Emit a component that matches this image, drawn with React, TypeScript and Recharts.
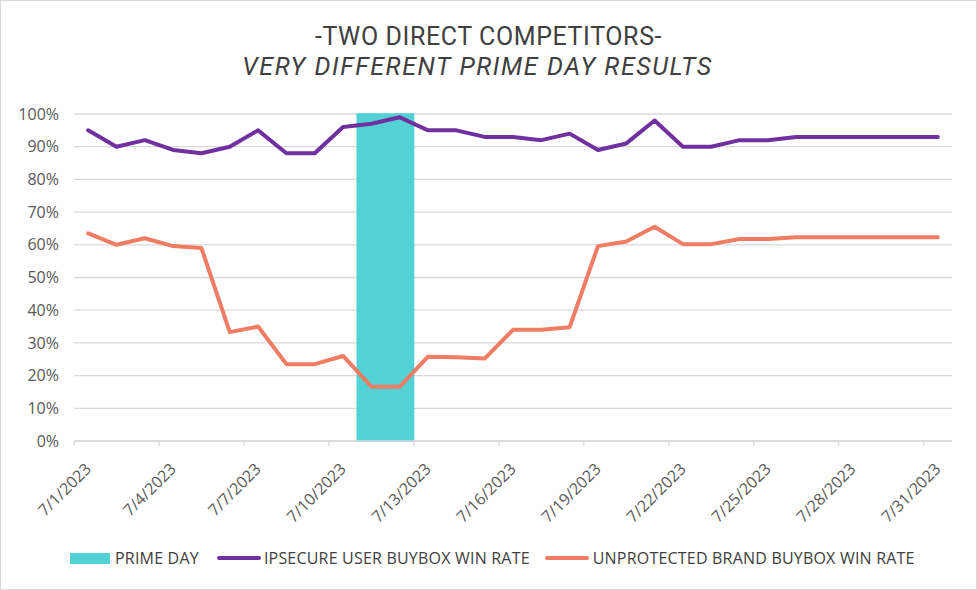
import { Bar, CartesianGrid, ComposedChart, Line, XAxis, YAxis } from "recharts";

const dates = [
  "7/1/2023", "7/2/2023", "7/3/2023", "7/4/2023", "7/5/2023", "7/6/2023", "7/7/2023",
  "7/8/2023", "7/9/2023", "7/10/2023", "7/11/2023", "7/12/2023", "7/13/2023", "7/14/2023",
  "7/15/2023", "7/16/2023", "7/17/2023", "7/18/2023", "7/19/2023", "7/20/2023", "7/21/2023",
  "7/22/2023", "7/23/2023", "7/24/2023", "7/25/2023", "7/26/2023", "7/27/2023", "7/28/2023",
  "7/29/2023", "7/30/2023", "7/31/2023",
];

const primeDay = [
  null, null, null, null, null, null, null, null, null, null, 100, 100, null, null, null, null,
  null, null, null, null, null, null, null, null, null, null, null, null, null, null, null,
];

const ipsecure = [
  95, 90, 92, 89, 88, 90, 95, 88, 88, 96, 97, 99, 95, 95, 93, 93,
  92, 94, 89, 91, 98, 90, 90, 92, 92, 93, 93, 93, 93, 93, 93,
];

const unprotected = [
  63.5, 60, 62, 59.6, 59, 33.3, 35, 23.5, 23.5, 26, 16.6, 16.6, 25.8, 25.6, 25.2, 34,
  34, 34.8, 59.6, 61, 65.5, 60.2, 60.2, 61.8, 61.8, 62.3, 62.3, 62.3, 62.3, 62.3, 62.3,
];

const yTicks = [0, 10, 20, 30, 40, 50, 60, 70, 80, 90, 100];

const TEAL = "#53D1D4";
const PURPLE = "#7030A0";
const SALMON = "#F07C63";
const GRID = "#D9D9D9";
const FONT = "'Open Sans', sans-serif";

const data = dates.map((date, i) => ({
  date,
  prime: primeDay[i],
  ipsecure: ipsecure[i],
  unprotected: unprotected[i],
}));

function DateTick(props: any) {
  const { x, y, payload } = props;
  const half = payload.offset ?? 14;
  return (
    <g>
      <line x1={x - half} x2={x - half} y1={y} y2={y + 5} stroke={GRID} strokeWidth={1.3} />
      <text
        x={x}
        y={y + 25}
        dy="0.35em"
        textAnchor="end"
        transform={`rotate(-45, ${x}, ${y + 25})`}
        fontSize={16}
        fontFamily={FONT}
        fill="#595959"
      >
        {payload.value}
      </text>
    </g>
  );
}

function LegendItem({
  kind,
  color,
  label,
  gap,
}: {
  kind: "rect" | "line";
  color: string;
  label: string;
  gap: number;
}) {
  return (
    <span style={{ display: "flex", alignItems: "center", gap }}>
      {kind === "rect" ? (
        <span style={{ width: 40, height: 11, background: color }} />
      ) : (
        <span style={{ width: 44, height: 4, borderRadius: 2, background: color }} />
      )}
      <span>{label}</span>
    </span>
  );
}

export default function App() {
  const titleStyle = {
    position: "absolute" as const,
    width: 975,
    textAlign: "center" as const,
    fontFamily: "Roboto, sans-serif",
    fontSize: 25,
    lineHeight: "25px",
    color: "#404040",
    whiteSpace: "nowrap" as const,
  };
  return (
    <div
      style={{
        position: "absolute",
        left: 0,
        top: 0,
        width: 977,
        height: 590,
        boxSizing: "border-box",
        border: `1px solid ${GRID}`,
        background: "#fff",
        fontFamily: FONT,
      }}
    >
      <div style={{ ...titleStyle, top: 23, left: 0, letterSpacing: 0.6 }}>
        -TWO DIRECT COMPETITORS-
      </div>
      <div style={{ ...titleStyle, top: 53, left: -11, fontStyle: "italic", letterSpacing: 1.6 }}>
        VERY DIFFERENT PRIME DAY RESULTS
      </div>

      <div style={{ position: "absolute", top: 0, left: 0 }}>
        <ComposedChart
          width={975}
          height={588}
          data={data}
          margin={{ top: 113, right: 24, left: 13, bottom: 118 }}
          barCategoryGap={0}
          barGap={0}
        >
          <CartesianGrid vertical={false} stroke={GRID} strokeWidth={1.3} />
          <XAxis
            dataKey="date"
            interval={2}
            height={30}
            tickSize={0}
            tickMargin={0}
            tickLine={false}
            axisLine={{ stroke: GRID, strokeWidth: 1.3 }}
            tick={<DateTick />}
          />
          <YAxis
            domain={[0, 100]}
            ticks={yTicks}
            width={60}
            axisLine={false}
            tickLine={false}
            tickSize={0}
            tickMargin={15}
            tickFormatter={(v: number) => `${v}%`}
            tick={{ fontSize: 16, fontFamily: FONT, fill: "#595959" }}
          />
          <Bar
            dataKey="prime"
            name="PRIME DAY"
            fill={TEAL}
            stroke={TEAL}
            strokeWidth={1.5}
            isAnimationActive={false}
          />
          <Line
            dataKey="ipsecure"
            name="IPSECURE USER BUYBOX WIN RATE"
            stroke={PURPLE}
            strokeWidth={4}
            dot={false}
            strokeLinecap="round"
            strokeLinejoin="round"
            isAnimationActive={false}
          />
          <Line
            dataKey="unprotected"
            name="UNPROTECTED BRAND BUYBOX WIN RATE"
            stroke={SALMON}
            strokeWidth={4}
            dot={false}
            strokeLinecap="round"
            strokeLinejoin="round"
            isAnimationActive={false}
          />
        </ComposedChart>
      </div>

      <div
        style={{
          position: "absolute",
          top: 546,
          left: 69,
          display: "flex",
          alignItems: "center",
          fontSize: 16,
          letterSpacing: 0.2,
          color: "#404040",
          lineHeight: "22px",
          whiteSpace: "nowrap",
        }}
      >
        <LegendItem kind="rect" color={TEAL} label="PRIME DAY" gap={5} />
        <span style={{ width: 18 }} />
        <LegendItem kind="line" color={PURPLE} label="IPSECURE USER BUYBOX WIN RATE" gap={3} />
        <span style={{ width: 15 }} />
        <LegendItem kind="line" color={SALMON} label="UNPROTECTED BRAND BUYBOX WIN RATE" gap={4} />
      </div>
    </div>
  );
}
